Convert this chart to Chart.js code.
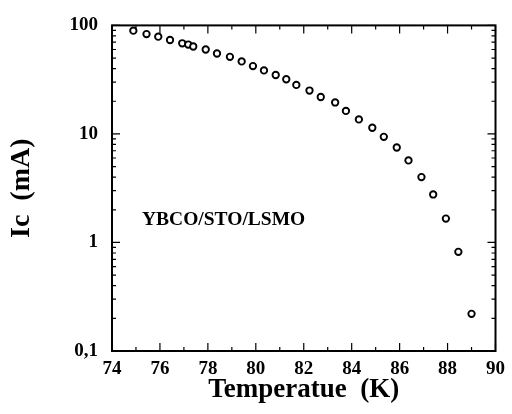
<!DOCTYPE html>
<html>
<head>
<meta charset="utf-8">
<script src="https://cdn.jsdelivr.net/npm/chart.js@4"></script>
<style>
  html, body { margin: 0; padding: 0; background: #fff; }
  #wrap { width: 512px; height: 414px; }
</style>
</head>
<body>
<div id="wrap"><canvas id="icChart" width="512" height="414"></canvas></div>
<script>
// critical current vs temperature
const temperature = [74.89, 75.44, 75.93, 76.42, 76.93, 77.18, 77.39, 77.91, 78.38, 78.92,
                     79.41, 79.88, 80.34, 80.83, 81.27, 81.69, 82.24, 82.71, 83.31, 83.76,
                     84.30, 84.86, 85.34, 85.88, 86.37, 86.91, 87.40, 87.93, 88.45, 89.00];
const icValues = [89.4, 83.2, 78.8, 73.4, 68.4, 66.6, 63.9, 60.0, 55.1, 51.3,
                  46.6, 42.2, 38.5, 34.9, 31.9, 28.3, 25.1, 21.9, 19.5, 16.3,
                  13.6, 11.4, 9.4, 7.5, 5.7, 4.0, 2.77, 1.66, 0.82, 0.22];
const yTicks = [0.1, 1, 10, 100];
const sampleLabel = 'YBCO/STO/LSMO';

const serif = '"Liberation Serif", "DejaVu Serif", serif';

// frame + inward ticks on all four sides
const frameTicks = {
    id: 'frameTicks',
    afterDraw(chart) {
        const { ctx, chartArea: a, scales: { x, y } } = chart;
        ctx.save();
        ctx.strokeStyle = '#000';
        ctx.lineWidth = 1.2;
        ctx.beginPath();
        for (let t = 74; t <= 90; t++) {
            const px = x.getPixelForValue(t);
            const len = t % 2 === 0 ? 8 : 4;
            ctx.moveTo(px, a.bottom); ctx.lineTo(px, a.bottom - len);
            ctx.moveTo(px, a.top); ctx.lineTo(px, a.top + len);
        }
        for (let d = 0.1; d < 100; d *= 10) {
            for (let m = 1; m <= 10; m++) {
                const v = d * m;
                const py = y.getPixelForValue(v);
                const len = (m === 1 || m === 10) ? 8 : 4;
                ctx.moveTo(a.left, py); ctx.lineTo(a.left + len, py);
                ctx.moveTo(a.right, py); ctx.lineTo(a.right - len, py);
            }
        }
        ctx.stroke();

        ctx.lineWidth = 2;
        ctx.strokeRect(a.left, a.top, a.right - a.left, a.bottom - a.top);

        // sample label
        ctx.fillStyle = '#000';
        ctx.font = 'bold 19.5px ' + serif;
        ctx.textBaseline = 'alphabetic';
        ctx.fillText(sampleLabel, x.getPixelForValue(75.25), y.getPixelForValue(1.45));
        ctx.restore();
    }
};

new Chart(document.getElementById('icChart'), {
    type: 'scatter',
    data: {
        datasets: [{
            data: temperature.map((t, i) => ({ x: t, y: icValues[i] })),
            pointStyle: 'circle',
            pointRadius: 3.2,
            pointHoverRadius: 3.2,
            borderWidth: 1.9,
            borderColor: '#000',
            backgroundColor: '#fff'
        }]
    },
    options: {
        responsive: false,
        animation: false,
        layout: { padding: { top: 23, right: 12, left: 0, bottom: 0 } },
        plugins: { legend: { display: false }, tooltip: { enabled: false } },
        scales: {
            x: {
                type: 'linear',
                min: 74,
                max: 90,
                border: { display: false },
                grid: { display: false, drawTicks: false },
                ticks: {
                    stepSize: 2,
                    padding: 7,
                    color: '#000',
                    maxRotation: 0,
                    font: { family: serif, size: 19, weight: 'bold' }
                },
                title: {
                    display: true,
                    text: 'Temperatue  (K)',
                    color: '#000',
                    padding: { top: 0, bottom: 8 },
                    font: { family: serif, size: 27, weight: 'bold' }
                },
                afterFit(s) { s.height = 63; }
            },
            y: {
                type: 'logarithmic',
                min: 0.1,
                max: 100,
                border: { display: false },
                grid: { display: false, drawTicks: false },
                afterBuildTicks(s) { s.ticks = yTicks.map(v => ({ value: v })); },
                ticks: {
                    padding: 14,
                    color: '#000',
                    font: { family: serif, size: 19, weight: 'bold' },
                    callback: v => String(v).replace('.', ',')
                },
                title: {
                    display: true,
                    text: 'Ic  (mA)',
                    color: '#000',
                    padding: { top: 5, bottom: 0 },
                    font: { family: serif, size: 28, weight: 'bold' }
                },
                afterFit(s) { s.width = 112; }
            }
        }
    },
    plugins: [frameTicks]
});
</script>
</body>
</html>
